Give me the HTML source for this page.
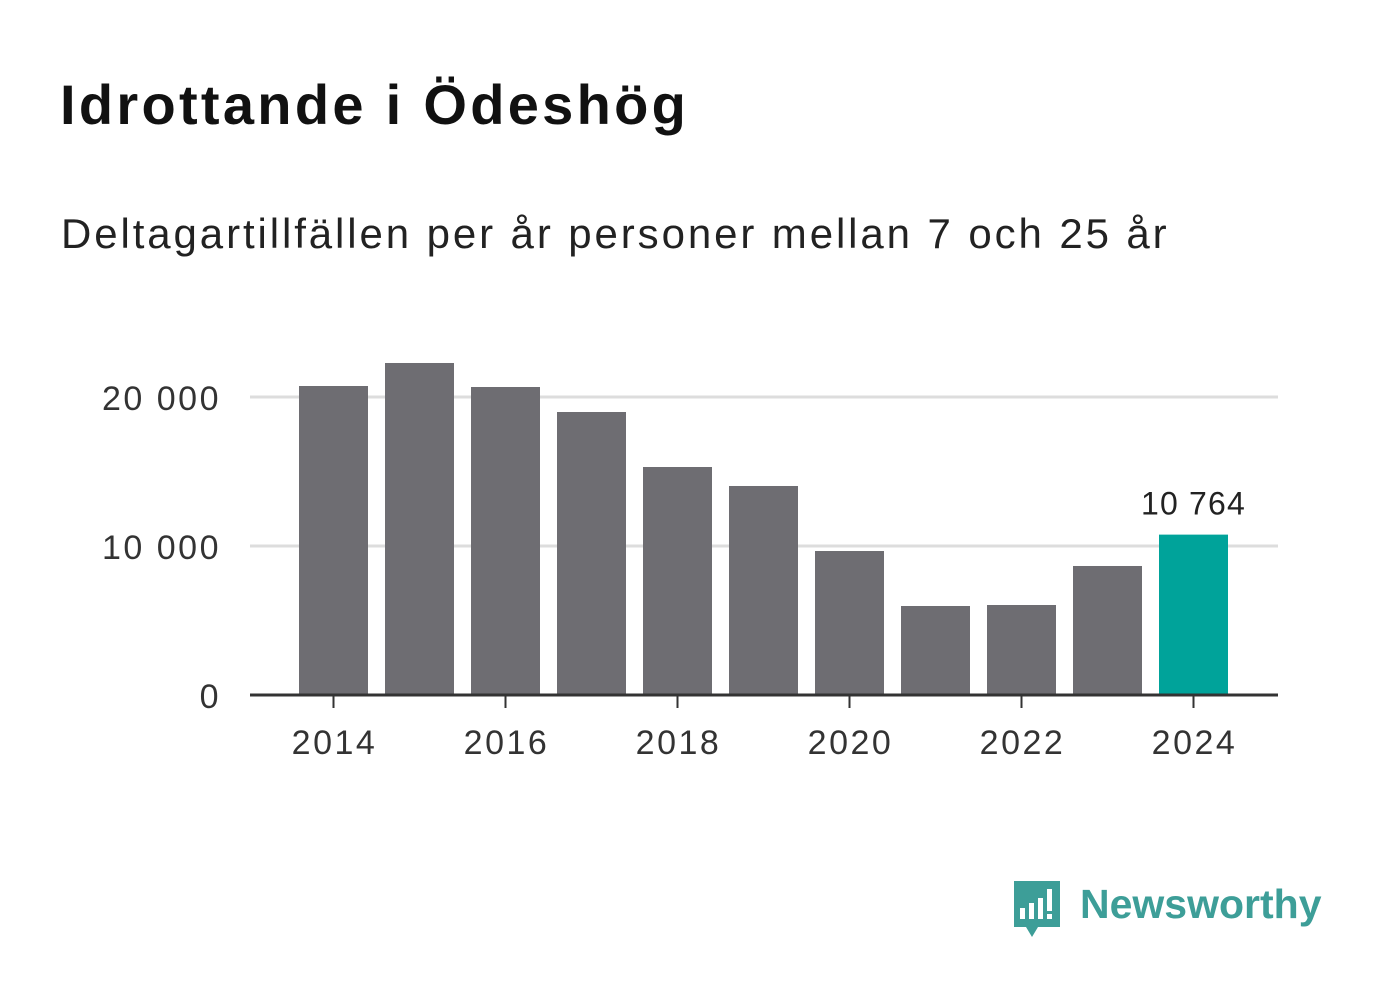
<!DOCTYPE html>
<html><head><meta charset="utf-8"><style>
body{margin:0;width:1382px;height:999px;background:#fff;overflow:hidden;font-family:"Liberation Sans","DejaVu Sans",sans-serif}
#title{position:absolute;left:60px;top:72px;font-size:56px;font-weight:bold;color:#111;margin:0;letter-spacing:3.3px}
#sub{position:absolute;left:61px;top:210px;font-size:42px;color:#222;letter-spacing:2.9px}
svg{position:absolute;left:0;top:0}
</style></head><body>
<h1 id="title">Idrottande i Ödeshög</h1>
<div id="sub">Deltagartillfällen per år personer mellan 7 och 25 år</div>
<svg id="chart" width="1382" height="999"></svg>
<script>
const years=[2014,2015,2016,2017,2018,2019,2020,2021,2022,2023,2024];
const values=[20738,22282,20671,18993,15302,14027,9664,5973,6040,8658,10764];
const yTicks=[0,10000,20000];
const yTickLabels=["0","10 000","20 000"];
const xTickYears=[2014,2016,2018,2020,2022,2024];
const NS="http://www.w3.org/2000/svg";
const svg=document.getElementById('chart');
const y=v=>695-v*0.0149;
const x=yr=>333.5+(yr-2014)*86;
function mk(t,a){const e=document.createElementNS(NS,t);for(const k in a)e.setAttribute(k,a[k]);svg.appendChild(e);return e;}
yTicks.forEach((t,i)=>{
 if(t>0){const g=mk('line',{x1:250,x2:1278,y1:y(t),y2:y(t),stroke:'#ddd','stroke-width':3});
 
 }
 const l=mk('text',{x:221,y:y(t)+13,'text-anchor':'end','font-size':34,fill:'#333','letter-spacing':2.5});
 l.textContent=yTickLabels[i];
 
 
});
years.forEach((yr,i)=>{
 const last=i===years.length-1;
 const r=mk('rect',{x:x(yr)-34.5,y:y(values[i]),width:69,height:695-y(values[i]),fill:last?'#00a39a':'#6e6d72'});
 
 
});
const li=years.length-1;
const vl=mk('text',{x:x(years[li]),y:y(values[li])-20,'text-anchor':'middle','font-size':32,fill:'#222','letter-spacing':1.2});
vl.textContent=values[li].toLocaleString('sv-SE').replace(/\s/g,' ');


const ax=mk('line',{x1:250,x2:1278,y1:695,y2:695,stroke:'#333','stroke-width':3});


xTickYears.forEach(yr=>{
 const t=mk('line',{x1:x(yr),x2:x(yr),y1:695,y2:708,stroke:'#333','stroke-width':2});
 
 
 const l=mk('text',{x:x(yr)+1,y:754,'text-anchor':'middle','font-size':34,fill:'#333','letter-spacing':2.5});
 l.textContent=yr;
 
 
});
</script>
<svg width="1382" height="999">
<path d="M1014 881h46v46h-22l-6 10-6-10h-12z" fill="#3d9e98"/>
<rect x="1020" y="908" width="5" height="11" fill="#fff"/>
<rect x="1029" y="903" width="5" height="16" fill="#fff"/>
<rect x="1038" y="898" width="5" height="21" fill="#fff"/>
<rect x="1047" y="889" width="5" height="22" fill="#fff"/>
<rect x="1047" y="914" width="5" height="5" fill="#fff"/>
<text x="1080" y="918" font-size="41" font-weight="bold" fill="#3d9e98">Newsworthy</text>
</svg>
</body></html>
